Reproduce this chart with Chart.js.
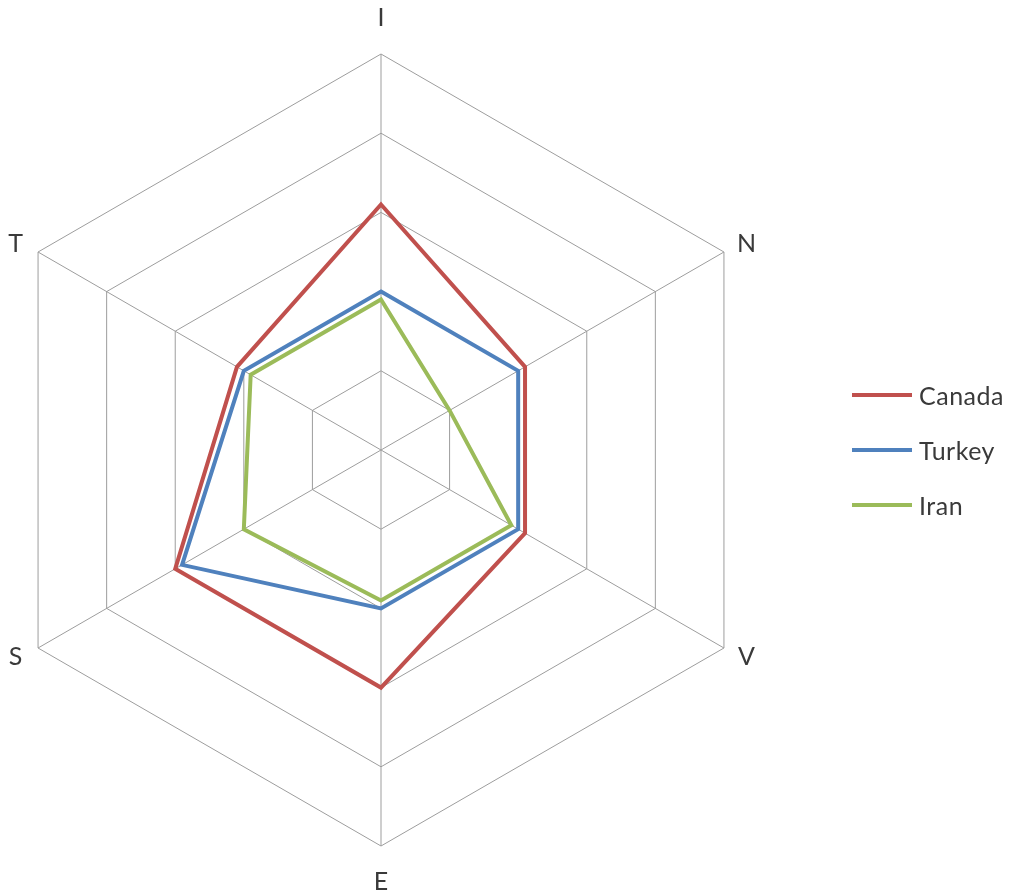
<!DOCTYPE html>
<html>
<head>
<meta charset="utf-8">
<script src="https://cdn.jsdelivr.net/npm/chart.js@4.4.0/dist/chart.umd.min.js"></script>
<style>
  html, body { margin: 0; padding: 0; background: #ffffff; }
  body { width: 1014px; height: 894px; position: relative; overflow: hidden; font-family: Lato, "Open Sans", sans-serif; }
  #radar { position: absolute; left: -100px; top: 0; }
  #legend { position: absolute; left: 852px; top: 0; }
  .item { position: absolute; left: 0; height: 30px; display: flex; align-items: center; white-space: nowrap; }
  .swatch { width: 60px; height: 4px; margin-right: 7px; }
  .name { font-size: 25px; color: #3a3a3a; letter-spacing: 0.5px; }
</style>
</head>
<body>
<canvas id="radar" width="962" height="894"></canvas>
<div id="legend"></div>
<script>
// Axes of the radar, clockwise from the top
const categories = ['I', 'N', 'V', 'E', 'S', 'T'];

// Scores per axis
const canada = [3.1, 2.1, 2.1, 3.0, 3.0, 2.1];
const turkey = [2.0, 2.0, 2.0, 2.0, 2.9, 2.0];
const iran   = [1.9, 1.0, 1.9, 1.9, 2.0, 1.9];

const seriesNames = ['Canada', 'Turkey', 'Iran'];
const seriesColors = ['#C0504D', '#4F81BD', '#9BBB59'];

// Ring values of the radial scale
const scaleMin = 0;
const scaleMax = 5;
const scaleStep = 1;

const seriesValues = [canada, turkey, iran];

// Axis letters drawn just outside each spoke tip
const axisLabelPlugin = {
  id: 'axisLabels',
  afterDraw(chart) {
    const scale = chart.scales.r;
    const ctx = chart.ctx;
    ctx.save();
    ctx.font = '25px Lato, "Open Sans", sans-serif';
    ctx.fillStyle = '#3a3a3a';
    ctx.textAlign = 'center';
    ctx.textBaseline = 'middle';
    categories.forEach((label, i) => {
      const a = scale.getIndexAngle(i);
      const tip = scale.getPointPosition(i, scale.drawingArea);
      const c = Math.cos(a);
      const dy = Math.abs(c) > 0.99 ? 36 : 17;
      const x = tip.x + Math.sin(a) * 26;
      const y = tip.y - c * dy;
      ctx.fillText(label, x, y);
    });
    ctx.restore();
  }
};

new Chart(document.getElementById('radar'), {
  type: 'radar',
  data: {
    labels: categories,
    datasets: seriesNames.map((name, k) => ({
      label: name,
      data: seriesValues[k],
      borderColor: seriesColors[k],
      backgroundColor: seriesColors[k],
      borderWidth: 4,
      fill: false,
      pointRadius: 0,
      pointHoverRadius: 0,
      tension: 0,
      order: seriesNames.length - k
    }))
  },
  options: {
    responsive: false,
    animation: false,
    devicePixelRatio: 1,
    layout: { padding: { top: 54, bottom: 48, left: 0, right: 0 } },
    plugins: {
      legend: { display: false },
      tooltip: { enabled: false }
    },
    scales: {
      r: {
        min: scaleMin,
        max: scaleMax,
        ticks: { stepSize: scaleStep, display: false },
        grid: { color: '#9d9d9d', lineWidth: 1 },
        angleLines: { color: '#9d9d9d', lineWidth: 1 },
        pointLabels: { display: false }
      }
    }
  },
  plugins: [axisLabelPlugin]
});

// Legend entries at the right of the chart
const legendTops = [380, 435, 490];
const legend = document.getElementById('legend');
seriesNames.forEach((name, k) => {
  const item = document.createElement('div');
  item.className = 'item';
  item.style.top = legendTops[k] + 'px';
  const sw = document.createElement('div');
  sw.className = 'swatch';
  sw.style.background = seriesColors[k];
  const tx = document.createElement('span');
  tx.className = 'name';
  tx.textContent = name;
  item.appendChild(sw);
  item.appendChild(tx);
  legend.appendChild(item);
});
</script>
</body>
</html>
